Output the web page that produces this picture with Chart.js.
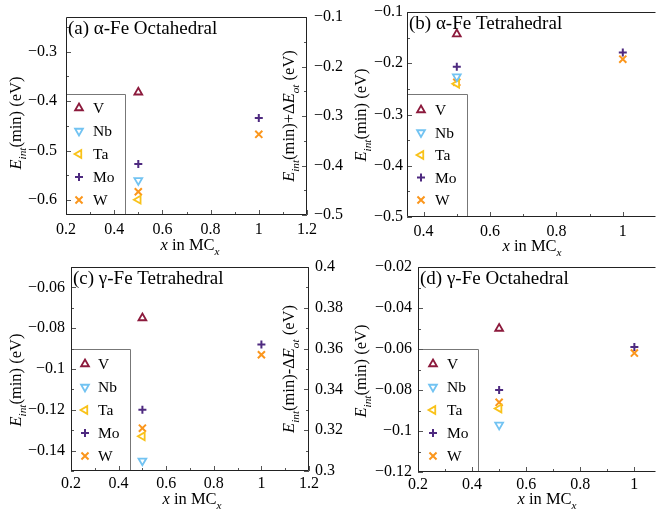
<!DOCTYPE html>
<html lang="en">
<head>
<meta charset="UTF-8">
<title>Interaction energy of MC_x solutes in Fe</title>
<script src="https://cdn.jsdelivr.net/npm/chart.js@4.4.1/dist/chart.umd.min.js"></script>
<style>
    html, body {
        margin: 0;
        padding: 0;
        width: 656px;
        height: 513px;
        overflow: hidden;
        background: #fff;
    }
    canvas {
        position: absolute;
        left: 0;
        top: 0;
    }
</style>
</head>
<body>
<canvas id="chartA" width="720" height="513"></canvas>
<canvas id="chartB" width="720" height="513"></canvas>
<canvas id="chartC" width="720" height="513"></canvas>
<canvas id="chartD" width="720" height="513"></canvas>
<script>
    // x positions of the points (x in MC_x)
    const xPositions = [0.5, 1];
    const metals = ['V', 'Nb', 'Ta', 'Mo', 'W'];

    // (a) alpha-Fe octahedral, E_int(min) in eV
    const alphaOctV  = [-0.382];
    const alphaOctNb = [-0.560];
    const alphaOctTa = [-0.599];
    const alphaOctMo = [-0.527, -0.434];
    const alphaOctW  = [-0.583, -0.467];

    // (b) alpha-Fe tetrahedral
    const alphaTetV  = [-0.143];
    const alphaTetNb = [-0.226];
    const alphaTetTa = [-0.240];
    const alphaTetMo = [-0.207, -0.179];
    const alphaTetW  = [-0.237, -0.192];

    // (c) gamma-Fe tetrahedral
    const gammaTetV  = [-0.075];
    const gammaTetNb = [-0.145];
    const gammaTetTa = [-0.133];
    const gammaTetMo = [-0.120, -0.088];
    const gammaTetW  = [-0.129, -0.093];

    // (d) gamma-Fe octahedral
    const gammaOctV  = [-0.050];
    const gammaOctNb = [-0.097];
    const gammaOctTa = [-0.089];
    const gammaOctMo = [-0.080, -0.059];
    const gammaOctW  = [-0.086, -0.062];

    // labelled (major) ticks
    const xTicksA  = [0.2, 0.4, 0.6, 0.8, 1, 1.2];
    const yTicksA  = [-0.6, -0.5, -0.4, -0.3];
    const y2TicksA = [-0.5, -0.4, -0.3, -0.2, -0.1];
    const xTicksB  = [0.4, 0.6, 0.8, 1];
    const yTicksB  = [-0.5, -0.4, -0.3, -0.2, -0.1];
    const xTicksC  = [0.2, 0.4, 0.6, 0.8, 1, 1.2];
    const yTicksC  = [-0.14, -0.12, -0.1, -0.08, -0.06];
    const y2TicksC = [0.3, 0.32, 0.34, 0.36, 0.38, 0.4];
    const xTicksD  = [0.2, 0.4, 0.6, 0.8, 1];
    const yTicksD  = [-0.12, -0.1, -0.08, -0.06, -0.04, -0.02];

    const FONT = '"Liberation Serif", "Times New Roman", serif';
    Chart.defaults.font.family = FONT;
    Chart.defaults.color = '#000';

    // marker look per metal
    const markers = {
        V:  {color: '#8c1a3c', style: 'triangle', rot: 0,   r: 4.5, bw: 1.8, fill: '#fff'},
        Nb: {color: '#72c3f2', style: 'triangle', rot: 180, r: 4.5, bw: 1.8, fill: '#fff'},
        Ta: {color: '#f9c21a', style: 'triangle', rot: 270, r: 4.5, bw: 1.8, fill: '#fff'},
        Mo: {color: '#4e2a80', style: 'cross',    rot: 0,   r: 4,   bw: 2,   fill: '#4e2a80'},
        W:  {color: '#fb961c', style: 'crossRot', rot: 0,   r: 5,   bw: 2,   fill: '#fb961c'}
    };

    function fmt(v) {
        return parseFloat(v.toFixed(4)).toString().replace('-', '\u2212');
    }

    function inList(list, v) {
        return list.some(function (t) { return Math.abs(t - v) < 1e-9; });
    }

    // draws text made of pieces (italic, subscript), centred at cx,cy
    function drawRich(ctx, parts, cx, cy, angle, size) {
        const fontOf = function (p) {
            return (p.i ? 'italic ' : '') + (p.sub ? size * 0.68 : size) + 'px ' + FONT;
        };
        const widths = parts.map(function (p) {
            ctx.font = fontOf(p);
            return ctx.measureText(p.t).width;
        });
        const total = widths.reduce(function (a, b) { return a + b; }, 0);
        ctx.save();
        ctx.translate(cx, cy);
        ctx.rotate(angle);
        ctx.fillStyle = '#000';
        ctx.textAlign = 'left';
        ctx.textBaseline = 'alphabetic';
        let x = -total / 2;
        parts.forEach(function (p, k) {
            ctx.font = fontOf(p);
            ctx.fillText(p.t, x, size * 0.35 + (p.sub ? size * 0.3 : 0));
            x += widths[k];
        });
        ctx.restore();
    }

    // legend box sitting in the lower left corner of the plot
    const insideLegend = {
        id: 'insideLegend',
        afterDatasetsDraw: function (chart, args, o) {
            const ctx = chart.ctx, a = chart.chartArea;
            const top = a.bottom - o.height;
            ctx.save();
            ctx.fillStyle = '#fff';
            ctx.fillRect(a.left, top, o.width, o.height);
            ctx.strokeStyle = '#777';
            ctx.lineWidth = 1;
            ctx.beginPath();
            ctx.moveTo(a.left, top + 0.5);
            ctx.lineTo(a.left + o.width + 0.5, top + 0.5);
            ctx.lineTo(a.left + o.width + 0.5, a.bottom);
            ctx.stroke();
            chart.data.datasets.forEach(function (ds, i) {
                const y = top + o.first + i * o.gap;
                const m = markers[ds.label];
                ctx.lineWidth = m.bw;
                ctx.strokeStyle = m.color;
                ctx.fillStyle = m.fill;
                Chart.helpers.drawPoint(ctx, {pointStyle: m.style, rotation: m.rot, radius: m.r, borderWidth: m.bw},
                    a.left + o.markX, y);
                ctx.fillStyle = '#000';
                ctx.font = '15.5px ' + FONT;
                ctx.textAlign = 'left';
                ctx.textBaseline = 'middle';
                ctx.fillText(ds.label, a.left + o.textX, y + 1);
            });
            ctx.restore();
        }
    };

    // frame, inward ticks, panel label and axis titles
    const frame = {
        id: 'frame',
        afterDraw: function (chart, args, o) {
            const ctx = chart.ctx, a = chart.chartArea;
            ctx.save();
            ctx.strokeStyle = '#555';
            ctx.lineWidth = 1;
            o.axes.forEach(function (ax) {
                const s = chart.scales[ax.id];
                const k0 = Math.ceil(s.min / ax.minor - 1e-6), k1 = Math.floor(s.max / ax.minor + 1e-6);
                for (let k = k0; k <= k1; k++) {
                    const v = k * ax.minor;
                    const len = inList(ax.major, v) ? 5 : 3;
                    const p = Math.round(s.getPixelForValue(v)) + 0.5;
                    ctx.beginPath();
                    if (ax.side === 'bottom') { ctx.moveTo(p, a.bottom); ctx.lineTo(p, a.bottom - len); }
                    if (ax.side === 'left')   { ctx.moveTo(a.left, p); ctx.lineTo(a.left + len, p); }
                    if (ax.side === 'right')  { ctx.moveTo(a.right, p); ctx.lineTo(a.right - len, p); }
                    ctx.stroke();
                }
            });
            ctx.strokeStyle = '#222';
            ctx.beginPath();
            const l = Math.round(a.left) + 0.5, t = Math.round(a.top) + 0.5;
            const r = Math.round(a.right) - 0.5, b = Math.round(a.bottom) - 0.5;
            ctx.moveTo(l, b); ctx.lineTo(l, t); ctx.lineTo(r, t);
            if (o.rightLine) { ctx.lineTo(r, b); } else { ctx.moveTo(r, b); }
            ctx.lineTo(l, b);
            ctx.stroke();
            ctx.restore();

            ctx.save();
            ctx.fillStyle = '#000';
            ctx.font = '19px ' + FONT;
            ctx.textAlign = 'left';
            ctx.textBaseline = 'alphabetic';
            ctx.fillText(o.label, a.left + 2, a.top + 17);
            ctx.restore();

            o.titles.forEach(function (tt) {
                drawRich(ctx, tt.parts, tt.x, tt.y, tt.rot ? -Math.PI / 2 : 0, 16.5);
            });
        }
    };

    const yTitle = [{t: 'E', i: true}, {t: 'int', i: true, sub: true}, {t: '(min) (eV)'}];
    const xTitle = [{t: 'x', i: true}, {t: ' in MC'}, {t: 'x', i: true, sub: true}];
    const plusTitle = [{t: 'E', i: true}, {t: 'int', i: true, sub: true}, {t: '(min)+\u0394'},
        {t: 'E', i: true}, {t: 'ot', i: true, sub: true}, {t: ' (eV)'}];
    const minusTitle = [{t: 'E', i: true}, {t: 'int', i: true, sub: true}, {t: '(min)-\u0394'},
        {t: 'E', i: true}, {t: 'ot', i: true, sub: true}, {t: ' (eV)'}];

    function axis(pos, min, max, labels, pad, size) {
        return {
            type: 'linear',
            position: pos,
            min: min,
            max: max,
            grid: {display: false, drawTicks: false},
            border: {display: false},
            afterBuildTicks: function (s) {
                s.ticks = labels.map(function (v) { return {value: v}; });
            },
            ticks: {
                autoSkip: false,
                maxRotation: 0,
                padding: pad,
                font: {size: 16, lineHeight: 1},
                callback: function (v) { return fmt(v); }
            },
            afterFit: function (s) {
                if (pos === 'bottom') { s.height = size; } else { s.width = size; }
            }
        };
    }

    function datasets(series) {
        return metals.map(function (name, i) {
            const m = markers[name];
            return {
                label: name,
                data: series[i].map(function (v, j) { return {x: xPositions[j], y: v}; }),
                showLine: false,
                pointStyle: m.style,
                pointRotation: m.rot,
                pointRadius: m.r,
                pointBorderWidth: m.bw,
                pointBorderColor: m.color,
                pointBackgroundColor: m.fill,
                clip: false
            };
        });
    }

    // box: plot area edges in page pixels
    function makePanel(id, box, series, scales, legendOpts, frameOpts) {
        const W = 720, H = 513;
        const rightW = scales.y2 ? 40 : 0;
        new Chart(document.getElementById(id), {
            type: 'scatter',
            data: {datasets: datasets(series)},
            options: {
                responsive: false,
                animation: false,
                events: [],
                layout: {padding: {left: 0, top: box.t, right: W - box.r - rightW, bottom: H - box.b - 40}},
                scales: scales,
                plugins: {
                    legend: {display: false},
                    tooltip: {enabled: false},
                    insideLegend: legendOpts,
                    frame: frameOpts
                }
            },
            plugins: [insideLegend, frame]
        });
    }

    // (a)
    makePanel('chartA', {l: 66, t: 10, r: 307, b: 215},
        [alphaOctV, alphaOctNb, alphaOctTa, alphaOctMo, alphaOctW],
        {
            x: axis('bottom', 0.2, 1.2, xTicksA, 7, 40),
            y: axis('left', -0.63, -0.23, yTicksA, 9, 66),
            y2: axis('right', -0.5, -0.1, y2TicksA, 7, 40)
        },
        {width: 59, height: 121, first: 14, gap: 23, markX: 13, textX: 27},
        {
            label: '(a) \u03b1-Fe Octahedral', rightLine: true,
            axes: [{id: 'x', side: 'bottom', minor: 0.1, major: xTicksA},
                   {id: 'y', side: 'left', minor: 0.05, major: yTicksA},
                   {id: 'y2', side: 'right', minor: 0.05, major: y2TicksA}],
            titles: [{parts: yTitle, x: 15, y: 123, rot: true},
                     {parts: plusTitle, x: 288, y: 116, rot: true},
                     {parts: xTitle, x: 190, y: 244}]
        });

    // (b)
    makePanel('chartB', {l: 407, t: 11, r: 656, b: 217},
        [alphaTetV, alphaTetNb, alphaTetTa, alphaTetMo, alphaTetW],
        {
            x: axis('bottom', 0.35, 1.1, xTicksB, 7, 40),
            y: axis('left', -0.5, -0.1, yTicksB, 4, 407)
        },
        {width: 60, height: 123, first: 16, gap: 22.5, markX: 14, textX: 28},
        {
            label: '(b) \u03b1-Fe Tetrahedral', rightLine: false,
            axes: [{id: 'x', side: 'bottom', minor: 0.1, major: xTicksB},
                   {id: 'y', side: 'left', minor: 0.05, major: yTicksB}],
            titles: [{parts: yTitle, x: 360, y: 115, rot: true},
                     {parts: xTitle, x: 532, y: 245}]
        });

    // (c)
    makePanel('chartC', {l: 71, t: 267, r: 309, b: 471},
        [gammaTetV, gammaTetNb, gammaTetTa, gammaTetMo, gammaTetW],
        {
            x: axis('bottom', 0.2, 1.2, xTicksC, 5, 40),
            y: axis('left', -0.15, -0.05, yTicksC, 6, 71),
            y2: axis('right', 0.3, 0.4, y2TicksC, 6, 40)
        },
        {width: 59, height: 122, first: 15, gap: 23, markX: 14, textX: 27},
        {
            label: '(c) \u03b3-Fe Tetrahedral', rightLine: true,
            axes: [{id: 'x', side: 'bottom', minor: 0.1, major: xTicksC},
                   {id: 'y', side: 'left', minor: 0.01, major: yTicksC},
                   {id: 'y2', side: 'right', minor: 0.01, major: y2TicksC}],
            titles: [{parts: yTitle, x: 15, y: 380, rot: true},
                     {parts: minusTitle, x: 288, y: 369, rot: true},
                     {parts: xTitle, x: 192, y: 498}]
        });

    // (d)
    makePanel('chartD', {l: 418, t: 267, r: 656, b: 472},
        [gammaOctV, gammaOctNb, gammaOctTa, gammaOctMo, gammaOctW],
        {
            x: axis('bottom', 0.2, 1.08, xTicksD, 5, 40),
            y: axis('left', -0.12, -0.02, yTicksD, 6, 418)
        },
        {width: 60, height: 123, first: 15, gap: 23, markX: 15, textX: 29},
        {
            label: '(d) \u03b3-Fe Octahedral', rightLine: false,
            axes: [{id: 'x', side: 'bottom', minor: 0.1, major: xTicksD},
                   {id: 'y', side: 'left', minor: 0.01, major: yTicksD}],
            titles: [{parts: yTitle, x: 360, y: 371, rot: true},
                     {parts: xTitle, x: 547, y: 498}]
        });
</script>
</body>
</html>
